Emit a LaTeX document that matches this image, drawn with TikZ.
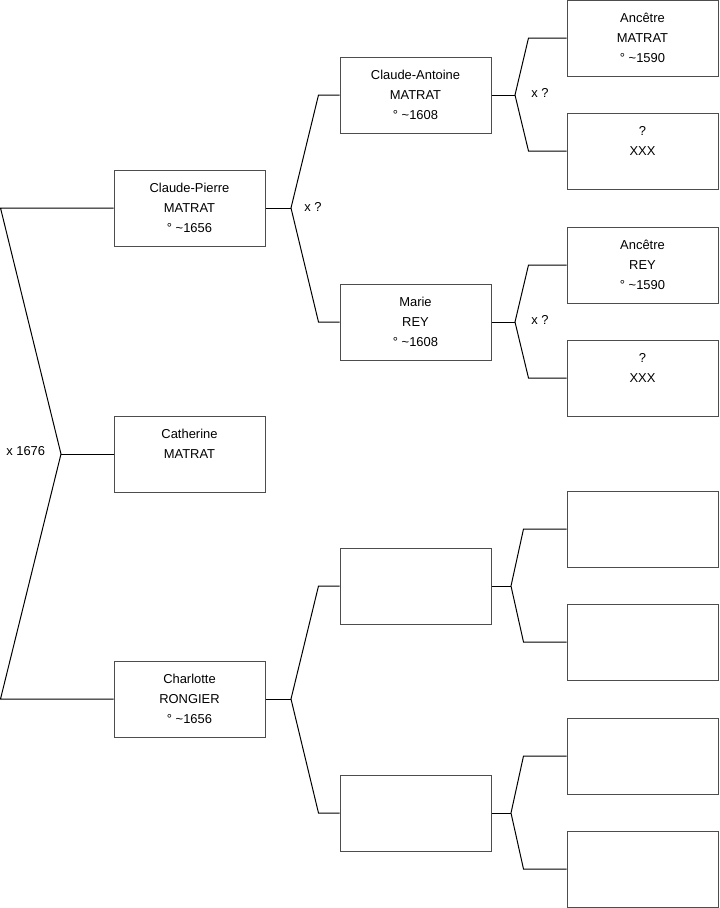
\documentclass[tikz,border=0pt]{standalone}
\usepackage{fontspec}
\setmainfont{Liberation Sans}
\usepackage{tikz}
\usetikzlibrary{positioning,calc}
\definecolor{boxgray}{HTML}{4D4D4D}

\begin{document}
\begin{tikzpicture}[x=0.75pt,y=-0.75pt,
    person/.style={draw=boxgray, line width=0.75pt, minimum width=113.25pt, minimum height=57pt,
      inner sep=0pt, align=center, font=\fontsize{9.7}{15}\selectfont},
    link/.style={line width=0.75pt},
    mariage/.style={anchor=west, inner sep=0pt, font=\fontsize{9.7}{15}\selectfont}]
        \useasboundingbox (0,0) rectangle (719,908);
        % enfant
        \node[person] (cath) at (189.5,454) {Catherine\\MATRAT\\\mbox{}};
        % parents
        \node[person] (cp) at (189.5,208) {Claude-Pierre\\MATRAT\\° \textasciitilde 1656};
        \node[person] (cr) at (189.5,699) {Charlotte\\RONGIER\\° \textasciitilde 1656};
        % grands-parents
        \node[person] (ca) at (415.5,95) {Claude-Antoine\\MATRAT\\° \textasciitilde 1608};
        \node[person] (mr) at (415.5,322) {Marie\\REY\\° \textasciitilde 1608};
        \node[person] (g3) at (415.5,586) {};
        \node[person] (g4) at (415.5,813) {};
        % arriere-grands-parents
        \node[person] (a1) at (642.5,38) {Ancêtre\\MATRAT\\° \textasciitilde 1590};
        \node[person] (a2) at (642.5,151) {?\\XXX\\\mbox{}};
        \node[person] (a3) at (642.5,265) {Ancêtre\\REY\\° \textasciitilde 1590};
        \node[person] (a4) at (642.5,378) {?\\XXX\\\mbox{}};
        \node[person] (a5) at (642.5,529) {};
        \node[person] (a6) at (642.5,642) {};
        \node[person] (a7) at (642.5,756) {};
        \node[person] (a8) at (642.5,869) {};
        % liens
        \coordinate (jcath) at (61,454);
        \coordinate (tcp) at (0.5,208);
        \coordinate (tcr) at (0.5,699);
        \draw[link] (cp.west) -- (tcp) -- (jcath) -- (tcr) -- (cr.west);
        \draw[link] (cath.west) -- (jcath);
        \coordinate (jcp) at (291,208);
        \draw[link] (cp.east) -- (jcp);
        \draw[link] (ca.west) -- ++(-21,0) -- (jcp) -- ($(mr.west)+(-21,0)$) -- (mr.west);
        \coordinate (jcr) at (291,699);
        \draw[link] (cr.east) -- (jcr);
        \draw[link] (g3.west) -- ++(-21,0) -- (jcr) -- ($(g4.west)+(-21,0)$) -- (g4.west);
        \coordinate (jca) at (515,95);
        \draw[link] (ca.east) -- (jca);
        \draw[link] (a1.west) -- ++(-38,0) -- (jca) -- ($(a2.west)+(-38,0)$) -- (a2.west);
        \coordinate (jmr) at (515,322);
        \draw[link] (mr.east) -- (jmr);
        \draw[link] (a3.west) -- ++(-38,0) -- (jmr) -- ($(a4.west)+(-38,0)$) -- (a4.west);
        \coordinate (jg3) at (511,586);
        \draw[link] (g3.east) -- (jg3);
        \draw[link] (a5.west) -- ++(-43,0) -- (jg3) -- ($(a6.west)+(-43,0)$) -- (a6.west);
        \coordinate (jg4) at (511,813);
        \draw[link] (g4.east) -- (jg4);
        \draw[link] (a7.west) -- ++(-43,0) -- (jg4) -- ($(a8.west)+(-43,0)$) -- (a8.west);
        % mariages
        \node[mariage] (m1) at (6,451) {x 1676};
        \node[mariage] (m2) at (304,207) {x ?};
        \node[mariage] (m3) at (531,93) {x ?};
        \node[mariage] (m4) at (531,320) {x ?};
      \end{tikzpicture}
\end{document}
